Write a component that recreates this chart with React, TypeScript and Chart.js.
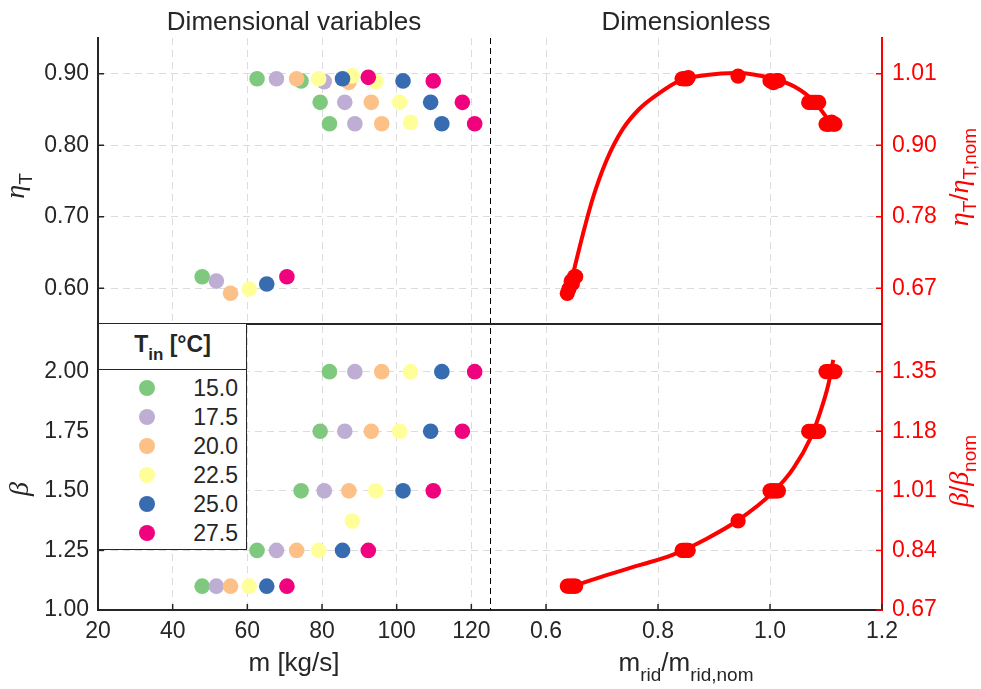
import React, { useEffect, useRef } from 'react';
import { Chart, registerables } from 'chart.js';

Chart.register(...registerables);

const FONT = '"Liberation Sans", Arial, Helvetica, sans-serif';
const MATH = '"Liberation Serif", "DejaVu Serif", serif';
const INK = '#262626';
const RED = '#ff0000';
const GRID = '#dcdcdc';

// ---------- legend / series ----------
const T_IN_LABELS = ['15.0', '17.5', '20.0', '22.5', '25.0', '27.5'];
const T_COLORS = ['#7fc97f', '#beaed4', '#fdc086', '#ffff99', '#386cb0', '#f0027f'];

// ---------- dimensional data (one value per inlet temperature) ----------
const BETA_LEVELS = [1.1, 1.25, 1.5, 1.75, 2.0];
const M_B110 = [47.9, 51.7, 55.5, 60.5, 65.2, 70.6];
const M_B125 = [62.6, 67.8, 73.2, 79.1, 85.5, 92.4];
const M_B150 = [74.4, 80.6, 87.2, 94.4, 101.7, 109.8];
const M_B175 = [79.5, 86.1, 93.2, 100.8, 109.1, 117.6];
const M_B200 = [82.0, 88.8, 96.0, 103.7, 112.1, 120.9];
const ETA_B110 = [0.616, 0.61, 0.593, 0.599, 0.606, 0.616];
const ETA_B125 = [0.893, 0.893, 0.893, 0.893, 0.893, 0.895];
const ETA_B150 = [0.89, 0.889, 0.888, 0.889, 0.89, 0.89];
const ETA_B175 = [0.86, 0.86, 0.86, 0.86, 0.86, 0.86];
const ETA_B200 = [0.83, 0.83, 0.83, 0.832, 0.83, 0.83];
// extra operating point (22.5 °C only)
const EXTRA_T_INDEX = 3;
const M_EXTRA = 88.1;
const ETA_EXTRA = 0.897;
const BETA_EXTRA = 1.373;

// ---------- dimensionless data ----------
const MR_B110 = [0.651, 0.645, 0.638, 0.641, 0.647, 0.653];
const MR_B125 = [0.843, 0.846, 0.848, 0.85, 0.852, 0.854];
const MR_B150 = [1.0, 1.003, 1.006, 1.009, 1.012, 1.015];
const MR_B175 = [1.069, 1.073, 1.076, 1.08, 1.083, 1.087];
const MR_B200 = [1.1, 1.103, 1.106, 1.11, 1.113, 1.116];
const MR_EXTRA = 0.943;
const ETAR_B110 = [0.69, 0.683, 0.664, 0.671, 0.679, 0.69];
const ETAR_B125 = [1.0, 1.0, 1.0, 1.0, 1.0, 1.002];
const ETAR_B150 = [0.997, 0.996, 0.994, 0.996, 0.997, 0.997];
const ETAR_B175 = [0.963, 0.963, 0.963, 0.963, 0.963, 0.963];
const ETAR_B200 = [0.929, 0.929, 0.929, 0.932, 0.929, 0.929];
const ETAR_EXTRA = 1.004;
const BETAR_LEVELS = [0.741, 0.842, 1.01, 1.178, 1.347];
const BETAR_EXTRA = 0.925;

// fitted curves
const FIT_ETA_X = [0.641, 0.651, 0.666, 0.684, 0.708, 0.737, 0.767, 0.8, 0.839, 0.887, 0.94, 1.006, 1.045, 1.078, 1.114];
const FIT_ETA_Y = [0.666, 0.704, 0.757, 0.814, 0.872, 0.921, 0.953, 0.976, 0.997, 1.006, 1.009, 1.0, 0.987, 0.965, 0.924];
const FIT_BETA_X = [0.645, 0.708, 0.767, 0.827, 0.887, 0.943, 1.006, 1.042, 1.072, 1.09, 1.104, 1.113];
const FIT_BETA_Y = [0.739, 0.772, 0.8, 0.83, 0.875, 0.927, 1.007, 1.074, 1.158, 1.234, 1.309, 1.38];

// ---------- axes ----------
const X_LEFT_TICKS = [20, 40, 60, 80, 100, 120];
const X_RIGHT_TICKS = [0.6, 0.8, 1.0, 1.2];
const ETA_TICKS = [0.6, 0.7, 0.8, 0.9];
const BETA_TICKS = [1.0, 1.25, 1.5, 1.75, 2.0];
const ETA_NOM = 0.893;
const BETA_NOM = 1.485;

const M_LEVELS = [M_B110, M_B125, M_B150, M_B175, M_B200];
const ETA_LEVELS = [ETA_B110, ETA_B125, ETA_B150, ETA_B175, ETA_B200];
const MR_LEVELS = [MR_B110, MR_B125, MR_B150, MR_B175, MR_B200];
const ETAR_LEVELS = [ETAR_B110, ETAR_B125, ETAR_B150, ETAR_B175, ETAR_B200];

type Seg = { t: string; font: string; dy?: number };

function drawRich(ctx: CanvasRenderingContext2D, segs: Seg[], cx: number, cy: number, rot: number, color: string) {
  ctx.save();
  ctx.translate(cx, cy);
  ctx.rotate(rot);
  ctx.fillStyle = color;
  ctx.textBaseline = 'alphabetic';
  ctx.textAlign = 'left';
  let w = 0;
  for (const s of segs) {
    ctx.font = s.font;
    w += ctx.measureText(s.t).width;
  }
  let x = -w / 2;
  for (const s of segs) {
    ctx.font = s.font;
    ctx.fillText(s.t, x, s.dy || 0);
    x += ctx.measureText(s.t).width;
  }
  ctx.restore();
}

const decorPlugin = {
  id: 'decor',
  afterDraw(chart: any) {
    const { ctx, chartArea: a, scales } = chart;
    const { xL, xR, yTL, yBL, yTR, yBR } = scales;
    ctx.save();
    // dashed separator between panels
    const sx = Math.round(xL.right) + 0.5;
    ctx.strokeStyle = '#000';
    ctx.lineWidth = 1;
    ctx.setLineDash([6, 4]);
    ctx.beginPath();
    ctx.moveTo(sx, a.top);
    ctx.lineTo(sx, a.bottom);
    ctx.stroke();
    ctx.setLineDash([]);
    // horizontal divider between upper and lower panels
    ctx.strokeStyle = INK;
    ctx.lineWidth = 2;
    ctx.beginPath();
    ctx.moveTo(a.left, Math.round(yTL.bottom));
    ctx.lineTo(a.right, Math.round(yTL.bottom));
    ctx.stroke();
    // inward tick marks
    const L = 6;
    ctx.lineWidth = 1.5;
    ctx.strokeStyle = INK;
    for (const s of [xL, xR]) {
      for (const t of s.ticks) {
        const x = s.getPixelForValue(t.value);
        ctx.beginPath();
        ctx.moveTo(x, a.bottom);
        ctx.lineTo(x, a.bottom - L);
        ctx.stroke();
      }
    }
    for (const s of [yTL, yBL]) {
      for (const t of s.ticks) {
        const y = s.getPixelForValue(t.value);
        ctx.beginPath();
        ctx.moveTo(a.left, y);
        ctx.lineTo(a.left + L, y);
        ctx.stroke();
      }
    }
    ctx.strokeStyle = RED;
    for (const s of [yTR, yBR]) {
      for (const t of s.ticks) {
        const y = s.getPixelForValue(t.value);
        ctx.beginPath();
        ctx.moveTo(a.right, y);
        ctx.lineTo(a.right - L, y);
        ctx.stroke();
      }
    }
    // panel titles
    const f26 = `26px ${FONT}`;
    const sub = `19px ${FONT}`;
    const eta = `italic 28px ${MATH}`;
    drawRich(ctx, [{ t: 'Dimensional variables', font: f26 }], (xL.left + xL.right) / 2, 30, 0, INK);
    drawRich(ctx, [{ t: 'Dimensionless', font: f26 }], (xR.left + xR.right) / 2, 30, 0, INK);
    // x titles
    drawRich(ctx, [{ t: 'm [kg/s]', font: f26 }], (xL.left + xL.right) / 2, 671, 0, INK);
    drawRich(
      ctx,
      [
        { t: 'm', font: f26 },
        { t: 'rid', font: sub, dy: 10 },
        { t: '/m', font: f26 },
        { t: 'rid,nom', font: sub, dy: 10 },
      ],
      (xR.left + xR.right) / 2,
      671,
      0,
      INK
    );
    // y titles
    const R = -Math.PI / 2;
    drawRich(ctx, [{ t: 'η', font: eta }, { t: 'T', font: sub, dy: 8 }], 24, (yTL.top + yTL.bottom) / 2 + 5, R, INK);
    drawRich(ctx, [{ t: 'β', font: eta }], 28, (yBL.top + yBL.bottom) / 2 + 22, R, INK);
    drawRich(
      ctx,
      [
        { t: 'η', font: eta },
        { t: 'T', font: sub, dy: 8 },
        { t: '/', font: f26 },
        { t: 'η', font: eta },
        { t: 'T,nom', font: sub, dy: 8 },
      ],
      968,
      (yTR.top + yTR.bottom) / 2 - 4,
      R,
      RED
    );
    drawRich(
      ctx,
      [
        { t: 'β', font: eta },
        { t: '/', font: f26 },
        { t: 'β', font: eta },
        { t: 'nom', font: sub, dy: 8 },
      ],
      968,
      (yBR.top + yBR.bottom) / 2 + 4,
      R,
      RED
    );
    ctx.restore();
  },
};

const tickFont = { family: FONT, size: 23 };
const hideAt = (v: number) => (c: any) => (c.tick && Math.abs(c.tick.value - v) < 1e-9 ? 'rgba(0,0,0,0)' : GRID);

function buildConfig(): any {
  const leftTop = T_IN_LABELS.map((lab, i) => {
    const pts = BETA_LEVELS.map((_, k) => ({ x: M_LEVELS[k][i], y: ETA_LEVELS[k][i] }));
    if (i === EXTRA_T_INDEX) pts.push({ x: M_EXTRA, y: ETA_EXTRA });
    return {
      label: lab,
      data: pts,
      xAxisID: 'xL',
      yAxisID: 'yTL',
      backgroundColor: T_COLORS[i],
      borderWidth: 0,
      pointRadius: 7.8,
      pointHoverRadius: 7.8,
    };
  });
  const leftBottom = T_IN_LABELS.map((lab, i) => {
    const pts = BETA_LEVELS.map((b, k) => ({ x: M_LEVELS[k][i], y: b }));
    if (i === EXTRA_T_INDEX) pts.push({ x: M_EXTRA, y: BETA_EXTRA });
    return {
      label: lab,
      data: pts,
      xAxisID: 'xL',
      yAxisID: 'yBL',
      backgroundColor: T_COLORS[i],
      borderWidth: 0,
      pointRadius: 7.8,
      pointHoverRadius: 7.8,
    };
  });
  const rtPts = MR_LEVELS.flatMap((xs, k) => xs.map((x, i) => ({ x, y: ETAR_LEVELS[k][i] })));
  rtPts.push({ x: MR_EXTRA, y: ETAR_EXTRA });
  const rbPts = MR_LEVELS.flatMap((xs, k) => xs.map((x) => ({ x, y: BETAR_LEVELS[k] })));
  rbPts.push({ x: MR_EXTRA, y: BETAR_EXTRA });

  const redPts = (data: any[], y: string) => ({
    data,
    xAxisID: 'xR',
    yAxisID: y,
    backgroundColor: RED,
    borderWidth: 0,
    pointRadius: 7.6,
    pointHoverRadius: 7.6,
  });
  const redLine = (xs: number[], ys: number[], y: string) => ({
    data: xs.map((x, i) => ({ x, y: ys[i] })),
    xAxisID: 'xR',
    yAxisID: y,
    showLine: true,
    borderColor: RED,
    borderWidth: 4,
    pointRadius: 0,
    pointHoverRadius: 0,
    cubicInterpolationMode: 'monotone',
    fill: false,
  });

  return {
    type: 'scatter',
    data: {
      datasets: [
        redPts(rtPts, 'yTR'),
        redPts(rbPts, 'yBR'),
        redLine(FIT_ETA_X, FIT_ETA_Y, 'yTR'),
        redLine(FIT_BETA_X, FIT_BETA_Y, 'yBR'),
        ...leftTop.slice().reverse(),
        ...leftBottom.slice().reverse(),
      ],
    },
    options: {
      responsive: false,
      animation: false,
      devicePixelRatio: 1,
      events: [],
      layout: { padding: { top: 38, left: 0, right: 0, bottom: 0 } },
      plugins: { legend: { display: false }, tooltip: { enabled: false } },
      scales: {
        xL: {
          type: 'linear',
          position: 'bottom',
          stack: 'x',
          stackWeight: 1,
          weight: 0,
          min: 20,
          max: 125,
          afterBuildTicks: (s: any) => {
            s.ticks = X_LEFT_TICKS.map((v) => ({ value: v }));
          },
          afterFit: (s: any) => {
            s.height = 79;
          },
          ticks: { color: INK, font: tickFont, padding: 8, maxRotation: 0, autoSkip: false, callback: (v: any) => String(v) },
          grid: { color: hideAt(20), drawTicks: false, lineWidth: 1 },
          border: { display: true, color: INK, width: 2, dash: [7, 5] },
        },
        xR: {
          type: 'linear',
          position: 'bottom',
          stack: 'x',
          stackWeight: 1,
          weight: 1,
          min: 0.5,
          max: 1.2,
          afterBuildTicks: (s: any) => {
            s.ticks = X_RIGHT_TICKS.map((v) => ({ value: v }));
          },
          afterFit: (s: any) => {
            s.height = 79;
          },
          ticks: { color: INK, font: tickFont, padding: 8, maxRotation: 0, autoSkip: false, callback: (v: any) => Number(v).toFixed(1) },
          grid: { color: hideAt(1.2), drawTicks: false, lineWidth: 1 },
          border: { display: true, color: INK, width: 2, dash: [7, 5] },
        },
        yTL: {
          type: 'linear',
          position: 'left',
          stack: 'y',
          stackWeight: 1,
          weight: 1,
          min: 0.55,
          max: 0.95,
          afterBuildTicks: (s: any) => {
            s.ticks = ETA_TICKS.map((v) => ({ value: v }));
          },
          afterFit: (s: any) => {
            s.width = 98;
          },
          ticks: { color: INK, font: tickFont, padding: 9, callback: (v: any) => Number(v).toFixed(2) },
          grid: { color: GRID, drawTicks: false, lineWidth: 1 },
          border: { display: true, color: INK, width: 2, dash: [7, 5] },
        },
        yBL: {
          type: 'linear',
          position: 'left',
          stack: 'y',
          stackWeight: 1,
          weight: 0,
          min: 1.0,
          max: 2.2,
          afterBuildTicks: (s: any) => {
            s.ticks = BETA_TICKS.map((v) => ({ value: v }));
          },
          afterFit: (s: any) => {
            s.width = 98;
          },
          ticks: { color: INK, font: tickFont, padding: 9, callback: (v: any) => Number(v).toFixed(2) },
          grid: { color: hideAt(1.0), drawTicks: false, lineWidth: 1 },
          border: { display: true, color: INK, width: 2, dash: [7, 5] },
        },
        yTR: {
          type: 'linear',
          position: 'right',
          stack: 'yr',
          stackWeight: 1,
          weight: 0,
          min: 0.55 / ETA_NOM,
          max: 0.95 / ETA_NOM,
          afterBuildTicks: (s: any) => {
            s.ticks = ETA_TICKS.map((v) => ({ value: v / ETA_NOM }));
          },
          afterFit: (s: any) => {
            s.width = 99;
          },
          ticks: { color: RED, font: tickFont, padding: 10, callback: (v: any) => Number(v).toFixed(2) },
          grid: { drawOnChartArea: false, drawTicks: false },
          border: { display: true, color: RED, width: 2 },
        },
        yBR: {
          type: 'linear',
          position: 'right',
          stack: 'yr',
          stackWeight: 1,
          weight: 1,
          min: 1.0 / BETA_NOM,
          max: 2.2 / BETA_NOM,
          afterBuildTicks: (s: any) => {
            s.ticks = BETA_TICKS.map((v) => ({ value: v / BETA_NOM }));
          },
          afterFit: (s: any) => {
            s.width = 99;
          },
          ticks: { color: RED, font: tickFont, padding: 10, callback: (v: any) => Number(v).toFixed(2) },
          grid: { drawOnChartArea: false, drawTicks: false },
          border: { display: true, color: RED, width: 2 },
        },
      },
    },
    plugins: [decorPlugin],
  };
}

function Legend() {
  return (
    <div
      style={{
        position: 'absolute',
        left: 98,
        top: 323,
        width: 149,
        height: 227,
        border: `1px solid ${INK}`,
        background: '#fff',
        boxSizing: 'border-box',
        fontFamily: FONT,
        color: INK,
      }}
    >
      <div
        style={{
          position: 'absolute',
          left: 0,
          top: 0,
          width: '100%',
          height: 46,
          borderBottom: `1px solid ${INK}`,
          boxSizing: 'border-box',
          textAlign: 'center',
          fontWeight: 'bold',
          fontSize: 23,
          lineHeight: '40px',
          whiteSpace: 'nowrap',
        }}
      >
        T<span style={{ fontSize: 17, position: 'relative', top: 8 }}>in</span> [°C]
      </div>
      {T_IN_LABELS.map((lab, i) => (
        <div key={lab}>
          <div
            style={{
              position: 'absolute',
              left: 39.5,
              top: 63.5 + i * 29.1 - 8,
              width: 16,
              height: 16,
              borderRadius: '50%',
              background: T_COLORS[i],
            }}
          />
          <div
            style={{
              position: 'absolute',
              right: 8,
              top: 63.5 + i * 29.1 - 14,
              height: 28,
              lineHeight: '28px',
              fontSize: 23,
              whiteSpace: 'nowrap',
            }}
          >
            {lab}
          </div>
        </div>
      ))}
    </div>
  );
}

export default function App() {
  const ref = useRef<HTMLCanvasElement>(null);
  useEffect(() => {
    if (!ref.current) return;
    const chart = new Chart(ref.current, buildConfig());
    return () => chart.destroy();
  }, []);
  return (
    <div style={{ position: 'absolute', left: 0, top: 0, width: 981, height: 689, background: '#fff', overflow: 'hidden' }}>
      <canvas
        ref={ref}
        width={981}
        height={689}
        style={{ position: 'absolute', left: 0, top: 0, width: 981, height: 689, display: 'block' }}
      />
      <Legend />
    </div>
  );
}
